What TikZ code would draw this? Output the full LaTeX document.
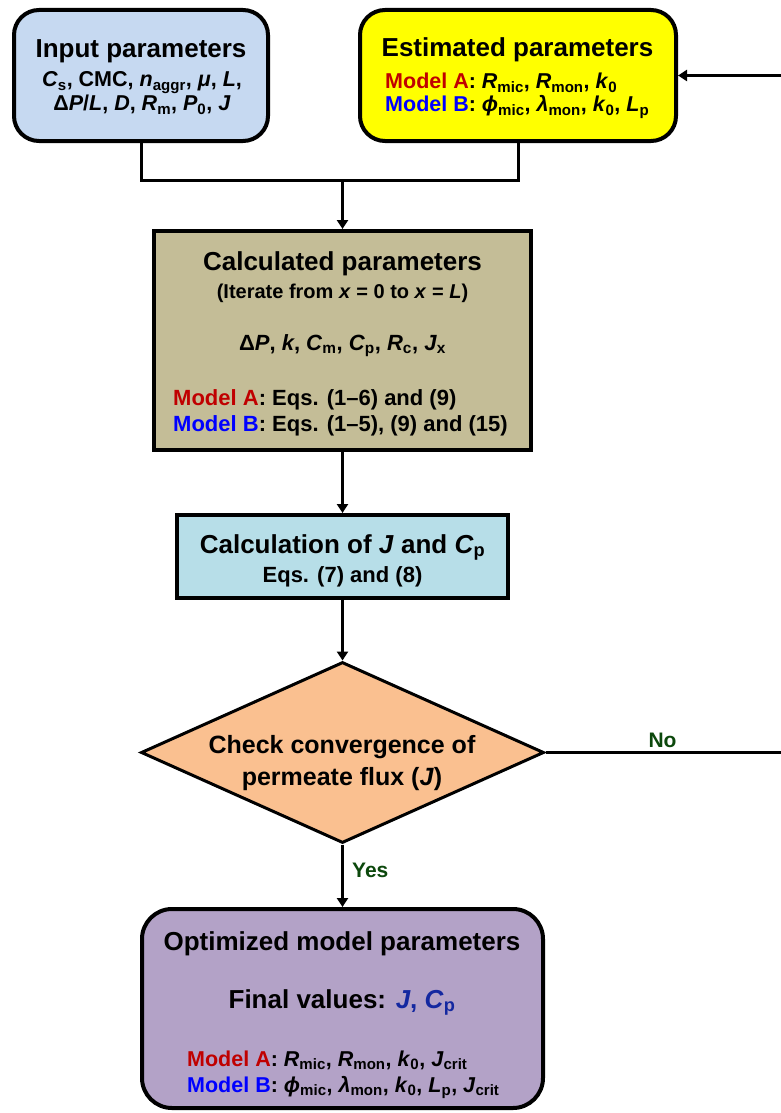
\documentclass[tikz,border=0pt]{standalone}
\usepackage{fontspec}
\setmainfont{Liberation Sans}
\usetikzlibrary{shapes.geometric,arrows.meta}
\definecolor{inpfill}{RGB}{198,217,241}
\definecolor{estfill}{RGB}{255,255,0}
\definecolor{calcfill}{RGB}{196,189,151}
\definecolor{cjfill}{RGB}{183,222,232}
\definecolor{chkfill}{RGB}{250,192,144}
\definecolor{finfill}{RGB}{179,162,199}
\definecolor{modA}{RGB}{192,0,0}
\definecolor{modB}{RGB}{0,0,255}
\definecolor{navy}{RGB}{20,40,160}
\definecolor{dgreen}{RGB}{12,72,12}
\newcommand\sbs[1]{\textsubscript{#1}}
\newcommand\vi[1]{\textit{#1}}
\newcommand\mA{{\color{modA}Model A}}
\newcommand\mB{{\color{modB}Model B}}
\begin{document}
\begin{tikzpicture}[x=1pt,y=-1pt,font=\bfseries,
  rbox/.style={draw,line width=4pt,rounded corners=25pt,inner sep=0pt},
  sbox/.style={draw,line width=4pt,inner sep=0pt},
  decbox/.style={draw,diamond,line width=3pt,inner sep=0pt,fill=chkfill},
  conn/.style={line width=3pt},
  arr/.style={conn,-{Triangle[length=9pt,width=11pt]}},
  ttl/.style={inner sep=0pt,anchor=base,font=\bfseries\fontsize{26}{30}\selectfont},
  sub/.style={inner sep=0pt,anchor=base,font=\bfseries\fontsize{21.5}{25}\selectfont},
  subl/.style={sub,anchor=base west},
  subc/.style={sub,font=\bfseries\fontsize{22}{26}\selectfont},
  lbl/.style={inner sep=0pt,text=dgreen,font=\bfseries\fontsize{21}{25}\selectfont}]
\useasboundingbox (0,0) rectangle (781,1113);
% boxes
\node[rbox,fill=inpfill,minimum width=254pt,minimum height=131pt] (inp) at (141,75.5) {};
\node[rbox,fill=estfill,minimum width=316pt,minimum height=131pt] (est) at (518,75.5) {};
\node[sbox,fill=calcfill,minimum width=377pt,minimum height=219pt] (calc) at (342.5,340.5) {};
\node[sbox,fill=cjfill,minimum width=331pt,minimum height=83pt] (cj) at (342.5,556.5) {};
\node[decbox,minimum width=403pt,minimum height=181pt] (chk) at (342.5,752.5) {};
\node[rbox,rounded corners=30pt,fill=finfill,minimum width=401pt,minimum height=199pt] (fin) at (342.5,1008.5) {};
% texts
\node[ttl] (inpt) at (141,58) {Input parameters};
\node[sub] (inp1) at (142,87) {\vi{C}\sbs{s}, CMC, \vi{n}\sbs{aggr}, \vi{μ}, \vi{L},};
\node[sub] (inp2) at (142,111) {Δ\vi{P}/\vi{L}, \vi{D}, \vi{R}\sbs{m}, \vi{P}\sbs{0}, \vi{J}};
\node[ttl] (estt) at (517.5,57) {Estimated parameters};
\node[subl] (est1) at (385,89) {\mA: \vi{R}\sbs{mic}, \vi{R}\sbs{mon}, \vi{k}\sbs{0}};
\node[subl] (est2) at (385,112) {\mB: \vi{ϕ}\sbs{mic}, \vi{λ}\sbs{mon}, \vi{k}\sbs{0}, \vi{L}\sbs{p}};
\node[ttl] (calct) at (342.5,270) {Calculated parameters};
\node[sub,font=\bfseries\fontsize{20}{24}\selectfont] (calc1) at (342.5,298) {(Iterate from \vi{x} = 0 to \vi{x} = \vi{L})};
\node[subc] (calc2) at (342.5,350) {Δ\vi{P}, \vi{k}, \vi{C}\sbs{m}, \vi{C}\sbs{p}, \vi{R}\sbs{c}, \vi{J}\sbs{x}};
\node[subc,anchor=base west] (calc3) at (173,405) {\mA: Eqs. (1–6) and (9)};
\node[subc,anchor=base west] (calc4) at (173,431) {\mB: Eqs. (1–5), (9) and (15)};
\node[ttl] (cjt) at (342.5,553) {Calculation of \vi{J} and \vi{C}\sbs{p}};
\node[subc] (cj1) at (342.5,582) {Eqs. (7) and (8)};
\node[ttl,font=\bfseries\fontsize{25}{30}\selectfont] (chk1) at (342,753) {Check convergence of};
\node[ttl,font=\bfseries\fontsize{25}{30}\selectfont] (chk2) at (342,785) {permeate flux (\vi{J})};
\node[ttl] (fint) at (342,950) {Optimized model parameters};
\node[ttl] (fin1) at (342,1008) {Final values: {\color{navy}\vi{J}, \vi{C}\sbs{p}}};
\node[subl] (fin2) at (187,1066) {\mA: \vi{R}\sbs{mic}, \vi{R}\sbs{mon}, \vi{k}\sbs{0}, \vi{J}\sbs{crit}};
\node[subl] (fin3) at (187,1092) {\mB: \vi{ϕ}\sbs{mic}, \vi{λ}\sbs{mon}, \vi{k}\sbs{0}, \vi{L}\sbs{p}, \vi{J}\sbs{crit}};
% connectors
\coordinate (join) at (342.5,180);
\coordinate (rb) at (790,752.5);
\coordinate (rt) at (790,75.5);
\draw[conn] (inp.south) |- (join) -| (est.south);
\draw[arr] (join) -- (calc.north);
\draw[arr] (calc.south) -- (cj.north);
\draw[arr] (cj.south) -- (chk.north);
\draw[arr] (chk.south) -- (fin.north);
\draw[arr] (chk.east) -- (rb) -- (rt) -- (est.east);
\node[lbl,anchor=base] (no) at (662.5,747) {No};
\node[lbl,anchor=base west] (yes) at (352,877) {Yes};
\end{tikzpicture}
\end{document}
